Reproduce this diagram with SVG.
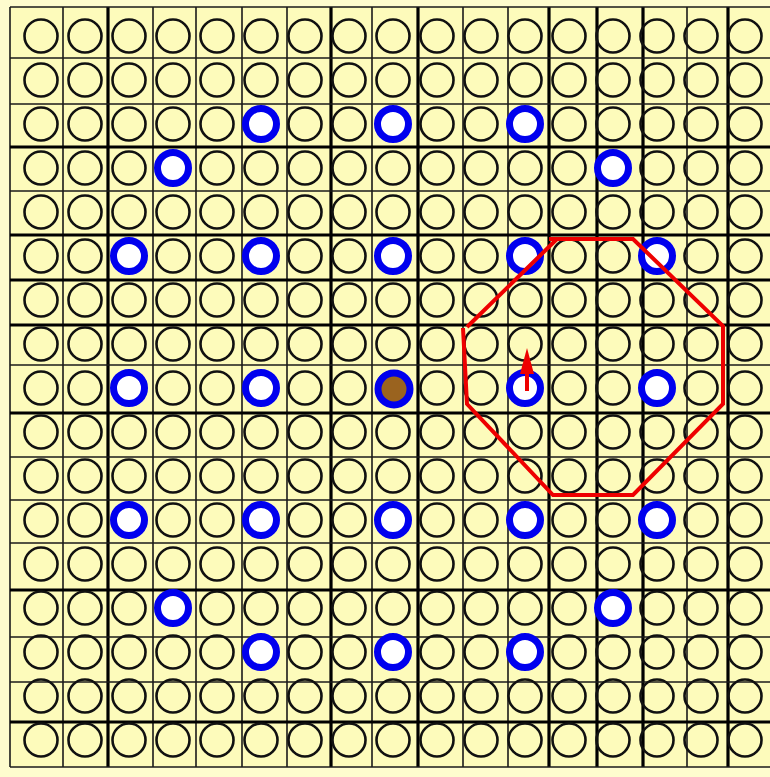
<svg xmlns="http://www.w3.org/2000/svg" width="770" height="777" viewBox="0 0 770 777">
<defs>
<style>
.bg{fill:#fefcce}
.cellbg{fill:#fdfbbb}
.thin{stroke:#1a1a1a;stroke-width:1.6}
.thick{stroke:#000;stroke-width:3.2}
.pin{fill:none;stroke:#111;stroke-width:2.6}
.blue{fill:#fff;stroke:#0000ee;stroke-width:7}
.brown{fill:#9a631f;stroke:#0000ee;stroke-width:7}
.oct{fill:none;stroke:#ee0000;stroke-width:4;stroke-linejoin:miter}
</style>
<circle id="p" r="16.5" class="pin"/>
<g id="row">
<use href="#p" x="41"/><use href="#p" x="85"/><use href="#p" x="129"/><use href="#p" x="173"/><use href="#p" x="217"/><use href="#p" x="261"/><use href="#p" x="305"/><use href="#p" x="349"/><use href="#p" x="393"/><use href="#p" x="437"/><use href="#p" x="481"/><use href="#p" x="525"/><use href="#p" x="569"/><use href="#p" x="613"/><use href="#p" x="657"/><use href="#p" x="701"/><use href="#p" x="745"/>
</g>
</defs>
<rect class="bg" x="0" y="0" width="770" height="777"/>
<rect class="cellbg" x="10" y="7" width="760" height="760"/>
<g id="gridlines">
<line class="thin" x1="10" y1="7" x2="10" y2="767"/>
<line class="thin" x1="63" y1="7" x2="63" y2="767"/>
<line class="thick" x1="108" y1="7" x2="108" y2="767"/>
<line class="thin" x1="153" y1="7" x2="153" y2="767"/>
<line class="thin" x1="196" y1="7" x2="196" y2="767"/>
<line class="thin" x1="242" y1="7" x2="242" y2="767"/>
<line class="thin" x1="287" y1="7" x2="287" y2="767"/>
<line class="thick" x1="331" y1="7" x2="331" y2="767"/>
<line class="thin" x1="372" y1="7" x2="372" y2="767"/>
<line class="thick" x1="418" y1="7" x2="418" y2="767"/>
<line class="thin" x1="463" y1="7" x2="463" y2="767"/>
<line class="thin" x1="508" y1="7" x2="508" y2="767"/>
<line class="thick" x1="549" y1="7" x2="549" y2="767"/>
<line class="thick" x1="597" y1="7" x2="597" y2="767"/>
<line class="thick" x1="643" y1="7" x2="643" y2="767"/>
<line class="thin" x1="687" y1="7" x2="687" y2="767"/>
<line class="thick" x1="728" y1="7" x2="728" y2="767"/>
<line class="thin" x1="10" y1="7" x2="770" y2="7"/>
<line class="thin" x1="10" y1="58" x2="770" y2="58"/>
<line class="thin" x1="10" y1="104" x2="770" y2="104"/>
<line class="thick" x1="10" y1="147" x2="770" y2="147"/>
<line class="thin" x1="10" y1="191" x2="770" y2="191"/>
<line class="thick" x1="10" y1="235" x2="770" y2="235"/>
<line class="thick" x1="10" y1="280" x2="770" y2="280"/>
<line class="thick" x1="10" y1="325" x2="770" y2="325"/>
<line class="thin" x1="10" y1="365" x2="770" y2="365"/>
<line class="thick" x1="10" y1="413" x2="770" y2="413"/>
<line class="thin" x1="10" y1="457" x2="770" y2="457"/>
<line class="thin" x1="10" y1="500" x2="770" y2="500"/>
<line class="thin" x1="10" y1="543" x2="770" y2="543"/>
<line class="thick" x1="10" y1="590" x2="770" y2="590"/>
<line class="thin" x1="10" y1="637" x2="770" y2="637"/>
<line class="thin" x1="10" y1="682" x2="770" y2="682"/>
<line class="thick" x1="10" y1="722" x2="770" y2="722"/>
<line class="thin" x1="10" y1="767" x2="770" y2="767"/>
</g>
<g id="pins">
<use href="#row" y="36"/><use href="#row" y="80"/><use href="#row" y="124"/><use href="#row" y="168"/><use href="#row" y="212"/><use href="#row" y="256"/><use href="#row" y="300"/><use href="#row" y="344"/><use href="#row" y="388"/><use href="#row" y="432"/><use href="#row" y="476"/><use href="#row" y="520"/><use href="#row" y="564"/><use href="#row" y="608"/><use href="#row" y="652"/><use href="#row" y="696"/><use href="#row" y="740"/>
</g>
<g id="guide-tubes">
<circle class="blue" cx="261" cy="124" r="15.5"/><circle class="blue" cx="393" cy="124" r="15.5"/><circle class="blue" cx="525" cy="124" r="15.5"/>
<circle class="blue" cx="173" cy="168" r="15.5"/><circle class="blue" cx="613" cy="168" r="15.5"/>
<circle class="blue" cx="129" cy="256" r="15.5"/><circle class="blue" cx="261" cy="256" r="15.5"/><circle class="blue" cx="393" cy="256" r="15.5"/><circle class="blue" cx="525" cy="256" r="15.5"/><circle class="blue" cx="657" cy="256" r="15.5"/>
<circle class="blue" cx="129" cy="388" r="15.5"/><circle class="blue" cx="261" cy="388" r="15.5"/><circle class="blue" cx="525" cy="388" r="15.5"/><circle class="blue" cx="657" cy="388" r="15.5"/>
<circle class="blue" cx="129" cy="520" r="15.5"/><circle class="blue" cx="261" cy="520" r="15.5"/><circle class="blue" cx="393" cy="520" r="15.5"/><circle class="blue" cx="525" cy="520" r="15.5"/><circle class="blue" cx="657" cy="520" r="15.5"/>
<circle class="blue" cx="173" cy="608" r="15.5"/><circle class="blue" cx="613" cy="608" r="15.5"/>
<circle class="blue" cx="261" cy="652" r="15.5"/><circle class="blue" cx="393" cy="652" r="15.5"/><circle class="blue" cx="525" cy="652" r="15.5"/>
</g>
<g id="center-tube">
<circle class="brown" cx="394" cy="389" r="16"/>
</g>
<g id="octagon">
<path class="oct" d="M549,239 L633,239 L723,326 L723,404 L633,495 L553,495 L467,404 L463,328 M467,327 L557,239"/>
</g>
<g id="arrow">
<line x1="527" y1="391" x2="527" y2="370" stroke="#ee0000" stroke-width="4"/>
<polygon points="527,348 520,374 534,374" fill="#ee0000"/>
</g>
</svg>
